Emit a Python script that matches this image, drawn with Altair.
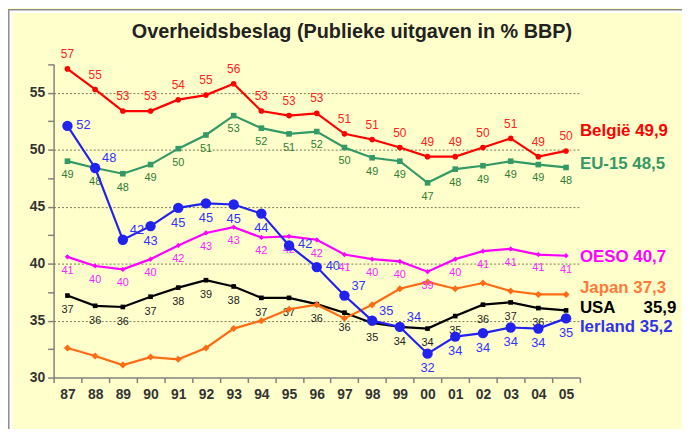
import altair as alt
import pandas as pd

years = ["87", "88", "89", "90", "91", "92", "93", "94", "95", "96",
         "97", "98", "99", "00", "01", "02", "03", "04", "05"]

belgie = [57.1, 55.3, 53.4, 53.4, 54.4, 54.8, 55.8, 53.4, 53.0, 53.2,
          51.4, 50.9, 50.2, 49.4, 49.4, 50.2, 51.0, 49.4, 49.9]
eu15 = [49.0, 48.4, 47.9, 48.7, 50.1, 51.3, 53.0, 51.9, 51.4, 51.6,
        50.2, 49.3, 49.0, 47.1, 48.3, 48.6, 49.0, 48.7, 48.45]
oeso = [40.6, 39.8, 39.5, 40.4, 41.6, 42.7, 43.2, 42.3, 42.4, 42.1,
        40.8, 40.4, 40.2, 39.3, 40.4, 41.1, 41.3, 40.8, 40.7]
japan = [32.6, 31.9, 31.1, 31.8, 31.6, 32.6, 34.3, 35.0, 36.0, 36.4,
         35.2, 36.4, 37.8, 38.4, 37.8, 38.3, 37.6, 37.3, 37.3]
usa = [37.2, 36.3, 36.2, 37.1, 37.9, 38.55, 38.0, 37.0, 37.0, 36.45,
       35.7, 34.8, 34.45, 34.3, 35.4, 36.4, 36.6, 36.1, 35.9]
ierland = [52.1, 48.4, 42.1, 43.3, 44.9, 45.3, 45.2, 44.4, 41.6, 39.7,
           37.2, 35.0, 34.45, 32.1, 33.6, 33.9, 34.4, 34.3, 35.2]

title_text = "Overheidsbeslag (Publieke uitgaven in % BBP)"

legend_texts = {
    "België": "België 49,9",
    "EU-15": "EU-15 48,5",
    "OESO": "OESO 40,7",
    "Japan": "Japan 37,3",
    "USA": "USA\u00a0\u00a0\u00a0\u00a0\u00a0\u00a035,9",
    "Ierland": "Ierland 35,2",
}

# label placement for Ierland: r = right, u = upper right, b = below
ierland_label_place = ["r", "u", "u", "b", "b", "b", "b", "b", "r", "r",
                       "u", "u", "u", "b", "b", "b", "b", "b", "b"]

FONT = "Liberation Sans"

series = [
    dict(name="USA", values=usa, color="#000000", shape="square", size=22,
         lcolor="#222222", lsize=11, ldy=15, gcolor="#000000", gdy=-2, labels="usa"),
    dict(name="Japan", values=japan, color="#FF6A13", shape="diamond", size=50,
         lcolor="#FF6A13", lsize=11, ldy=15, gcolor="#FF7A3A", gdy=-6, labels="none"),
    dict(name="OESO", values=oeso, color="#FF00FF", shape="diamond", size=28,
         lcolor="#FF22FF", lsize=11, ldy=14, gcolor="#FF00FF", gdy=1, labels="all"),
    dict(name="EU-15", values=eu15, color="#339966", shape="square", size=32,
         lcolor="#2E7D32", lsize=11, ldy=14, gcolor="#339966", gdy=-3, labels="all"),
    dict(name="België", values=belgie, color="#FF0000", shape="circle", size=32,
         lcolor="#FF2020", lsize=12, ldy=-15, gcolor="#FF0000", gdy=-20, labels="all"),
    dict(name="Ierland", values=ierland, color="#2222EE", shape="circle", size=110,
         lcolor="#3333FF", lsize=13, ldy=15, gcolor="#3333EE", gdy=9, labels="ierland"),
]

y_ticks = [30, 32.5, 35, 37.5, 40, 42.5, 45, 47.5, 50, 52.5, 55, 57.5]

X = alt.X(
    "year:O",
    scale=alt.Scale(type="band", domain=years, paddingInner=0, paddingOuter=0),
    bandPosition=0.5,
    axis=alt.Axis(
        title=None, labelAngle=0, labelFont=FONT, labelFontSize=14,
        labelFontWeight="bold", labelColor="#333333", tickBand="extent",
        tickSize=5, tickColor="#808080", domainColor="#808080",
        domainWidth=1.5, tickWidth=1.5, labelPadding=5, grid=False,
    ),
)
Y = alt.Y(
    "value:Q",
    scale=alt.Scale(domain=[30, 57.5], nice=False, zero=False),
    axis=alt.Axis(
        title=None, values=y_ticks,
        labelExpr="datum.value % 5 == 0 ? datum.label : ''",
        labelFont=FONT, labelFontSize=14, labelFontWeight="bold",
        labelColor="#333333", tickSize=6, tickColor="#808080",
        domainColor="#808080", domainWidth=1.5, tickWidth=1.5,
        labelPadding=3, grid=True, gridColor="#777755", gridDash=[2, 2],
        gridWidth=1,
        gridOpacity={"condition": {"test": "datum.value % 5 == 0 && datum.value > 30 && datum.value < 57",
                                   "value": 1}, "value": 0},
    ),
)

layers = []

# frame: grey edge and white inner strip
frame_df = pd.DataFrame({"k": [0]})
layers.append(
    alt.Chart(frame_df).mark_rect(fillOpacity=0, stroke="#FFFFFF", strokeWidth=3.5)
    .encode(x=alt.value(-43.5), x2=alt.value(700), y=alt.value(-53.5), y2=alt.value(500))
)
layers.append(
    alt.Chart(frame_df).mark_rect(fillOpacity=0, stroke="#8C8C8C", strokeWidth=1.5)
    .encode(x=alt.value(-45.2), x2=alt.value(700), y=alt.value(-55.2), y2=alt.value(500))
)

# title as a text mark
layers.append(
    alt.Chart(pd.DataFrame({"t": [title_text]}))
    .mark_text(fontSize=20, fontWeight="bold", font=FONT, color="#222222",
               baseline="middle", align="center")
    .encode(x=alt.value(301), y=alt.value(-33), text="t:N")
)

for s in series:
    df = pd.DataFrame({"year": years, "value": s["values"], "place": ierland_label_place})
    base = alt.Chart(df).encode(x=X, y=Y)
    layers.append(base.mark_line(color=s["color"], strokeWidth=2.2))
    layers.append(base.mark_point(filled=True, shape=s["shape"], size=s["size"],
                                  color=s["color"], opacity=1))
    txt = alt.Text("value:Q", format=".0f")
    if s["labels"] == "all":
        layers.append(base.mark_text(dy=s["ldy"], fontSize=s["lsize"], font=FONT,
                                     color=s["lcolor"]).encode(text=txt))
    elif s["labels"] == "usa":
        layers.append(base.transform_filter(alt.datum.year != "05")
                      .mark_text(dy=s["ldy"], fontSize=s["lsize"], font=FONT,
                                 color=s["lcolor"]).encode(text=txt))
    elif s["labels"] == "ierland":
        layers.append(base.transform_filter(alt.datum.place == "b")
                      .mark_text(dy=15, fontSize=s["lsize"], font=FONT,
                                 color=s["lcolor"]).encode(text=txt))
        layers.append(base.transform_filter(alt.datum.place == "r")
                      .mark_text(dx=9, dy=-1, align="left", fontSize=s["lsize"], font=FONT,
                                 color=s["lcolor"]).encode(text=txt))
        layers.append(base.transform_filter(alt.datum.place == "u")
                      .mark_text(dx=7, dy=-10, align="left", fontSize=s["lsize"], font=FONT,
                                 color=s["lcolor"]).encode(text=txt))
    leg = pd.DataFrame({"year": [years[-1]], "value": [s["values"][-1]],
                        "label": [legend_texts[s["name"]]]})
    layers.append(
        alt.Chart(leg).mark_text(align="left", dx=14, dy=s["gdy"], fontSize=17,
                                 fontWeight="bold", font=FONT, color=s["gcolor"])
        .encode(x=X, y=Y, text="label:N")
    )

chart = alt.layer(*layers).properties(
    width=531,
    height=316,
    autosize=alt.AutoSizeParams(type="none"),
    padding={"left": 46, "top": 55, "right": 103, "bottom": 50},
    background="#FFFFCC",
).configure_view(strokeWidth=0)

chart.save("out.html", embed_options={"renderer": "svg", "actions": False})
